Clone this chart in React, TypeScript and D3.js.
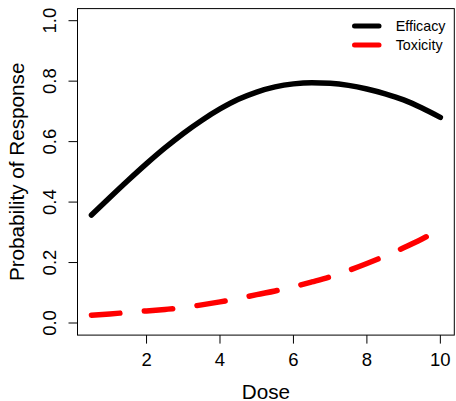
import React from "react";
import * as d3 from "d3";

const doses = [0.5, 1, 1.5, 2, 2.5, 3, 3.5, 4, 4.5, 5, 5.5, 6, 6.5, 7, 7.5, 8, 8.5, 9, 9.5, 10];
const efficacy = [0.357, 0.415, 0.472, 0.527, 0.579, 0.627, 0.67, 0.708, 0.74, 0.764, 0.781, 0.791, 0.795, 0.793, 0.786, 0.774, 0.758, 0.738, 0.711, 0.68];
const toxicity = [0.026, 0.03, 0.035, 0.04, 0.045, 0.051, 0.06, 0.07, 0.081, 0.094, 0.106, 0.12, 0.136, 0.153, 0.174, 0.197, 0.222, 0.249, 0.278, 0.31];
const xTicks = [2, 4, 6, 8, 10];
const yTicks = [0, 0.2, 0.4, 0.6, 0.8, 1.0];
const seriesNames = ["Efficacy", "Toxicity"];
const seriesColors = ["#000000", "#ff0000"];

const W = 456, H = 401;
const L = 77.5, R = 454.3, T = 8.6, B = 335.1;
const FONT = "'Liberation Sans', Arial, Helvetica, sans-serif";

export default function App() {
  const x = d3.scaleLinear().domain([0.12, 10.38]).range([L, R]);
  const y = d3.scaleLinear().domain([-0.04, 1.04]).range([B, T]);
  const line = d3
    .line<[number, number]>()
    .x((d) => x(d[0]))
    .y((d) => y(d[1]))
    .curve(d3.curveMonotoneX);
  const effPath = line(doses.map((d, i) => [d, efficacy[i]] as [number, number])) || "";
  const toxPath = line(doses.map((d, i) => [d, toxicity[i]] as [number, number])) || "";
  const lw = 5.5;

  return (
    <svg
      width={W}
      height={H}
      style={{ position: "absolute", left: 0, top: 0, background: "#fff" }}
      fontFamily={FONT}
    >
      <rect x={0} y={0} width={W} height={H} fill="#fff" />
      <path d={effPath} fill="none" stroke={seriesColors[0]} strokeWidth={lw} strokeLinecap="round" strokeLinejoin="round" />
      <path
        d={toxPath}
        fill="none"
        stroke={seriesColors[1]}
        strokeWidth={lw}
        strokeLinecap="round"
        strokeLinejoin="round"
        strokeDasharray="28.5 24.5"
      />
      <rect x={L} y={T} width={R - L} height={B - T} fill="none" stroke="#000" strokeWidth={1} />
      {xTicks.map((t) => (
        <g key={"x" + t}>
          <line x1={x(t)} x2={x(t)} y1={B} y2={B + 8.5} stroke="#000" strokeWidth={1} />
          <text x={x(t)} y={365.5} fontSize={18.5} textAnchor="middle" fill="#000">
            {t}
          </text>
        </g>
      ))}
      {yTicks.map((t) => (
        <g key={"y" + t}>
          <line x1={L} x2={L - 9} y1={y(t)} y2={y(t)} stroke="#000" strokeWidth={1} />
          <text
            transform={`translate(56,${y(t)}) rotate(-90)`}
            fontSize={18.5}
            textAnchor="middle"
            fill="#000"
          >
            {t.toFixed(1)}
          </text>
        </g>
      ))}
      <text x={(L + R) / 2} y={398.5} fontSize={20.7} textAnchor="middle" fill="#000">
        Dose
      </text>
      <text
        transform={`translate(24,${(T + B) / 2}) rotate(-90)`}
        fontSize={20.7}
        textAnchor="middle"
        fill="#000"
      >
        Probability of Response
      </text>
      {seriesNames.map((n, i) => (
        <g key={n}>
          <line
            x1={354.5}
            x2={379}
            y1={26 + i * 19}
            y2={26 + i * 19}
            stroke={seriesColors[i]}
            strokeWidth={5}
            strokeLinecap="round"
          />
          <text x={395.7} y={26 + i * 19} dy="0.35em" fontSize={14.3} fill="#000">
            {n}
          </text>
        </g>
      ))}
    </svg>
  );
}
